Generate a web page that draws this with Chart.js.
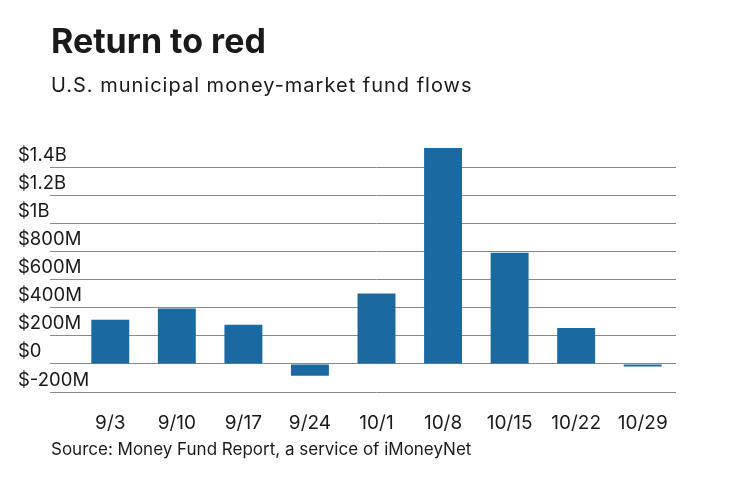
<!DOCTYPE html>
<html lang="en">
<head>
  <meta charset="UTF-8" />
  <title>Return to red</title>
  <script src="https://cdn.jsdelivr.net/npm/chart.js"></script>
  <style>
    body {
      margin: 0;
      background: #fff;
      font-family: Inter, sans-serif;
      color: #1a1a1a;
    }
    .wrap {
      position: relative;
      width: 740px;
      height: 482px;
      overflow: hidden;
    }
    canvas {
      position: absolute;
      left: 0;
      top: 0;
    }
    .txt {
      position: absolute;
      left: 51px;
      line-height: 1;
      white-space: nowrap;
    }
    h1.txt {
      margin: 0;
      top: 24px;
      font-size: 34px;
      font-weight: 700;
    }
    .sub { top: 75px; font-size: 20px; letter-spacing: 1px; }
    .src { top: 441px; font-size: 17px; }
  </style>
</head>
<body>
  <div class="wrap">
    <canvas id="chart" width="740" height="482"></canvas>
    <h1 class="txt">Return to red</h1>
    <div class="txt sub">U.S. municipal money-market fund flows</div>
    <div class="txt src">Source: Money Fund Report, a service of iMoneyNet</div>
  </div>
<script>
    // weekly flows, millions of dollars
    const weeks = ['9/3', '9/10', '9/17', '9/24', '10/1', '10/8', '10/15', '10/22', '10/29'];
    const flows = [314, 393, 279, -84, 500, 1536, 791, 255, -18];

    const money = v => {
      if (v === 0) return '$0';
      if (Math.abs(v) >= 1000) return '$' + (v / 1000) + 'B';
      return '$' + v + 'M';
    };

    new Chart(document.getElementById('chart').getContext('2d'), {
      type: 'bar',
      data: {
        labels: weeks,
        datasets: [{
          data: flows,
          backgroundColor: '#1b69a1',
          borderWidth: 0,
          barPercentage: 0.57,
          categoryPercentage: 1,
          clip: false
        }]
      },
      options: {
        responsive: false,
        animation: false,
        layout: {
          padding: { left: 18, right: 64, top: 167, bottom: 40 }
        },
        plugins: {
          legend: { display: false },
          tooltip: { enabled: false }
        },
        scales: {
          x: {
            grid: { display: false },
            border: { display: false },
            ticks: {
              color: '#1a1a1a',
              padding: 12,
              font: { family: 'Inter', size: 19 }
            },
            afterFit: s => { s.height = 50; }
          },
          y: {
            min: -200,
            max: 1400,
            border: { display: false },
            grid: { color: '#8a8a8a', lineWidth: 1, tickLength: 27 },
            ticks: {
              stepSize: 200,
              mirror: true,
              padding: -59,
              labelOffset: -12,
              color: '#1a1a1a',
              font: { family: 'Inter', size: 18.5 },
              callback: v => money(v)
            },
            afterFit: s => { s.width = 59; }
          }
        }
      }
    });
  </script>
</body>
</html>
